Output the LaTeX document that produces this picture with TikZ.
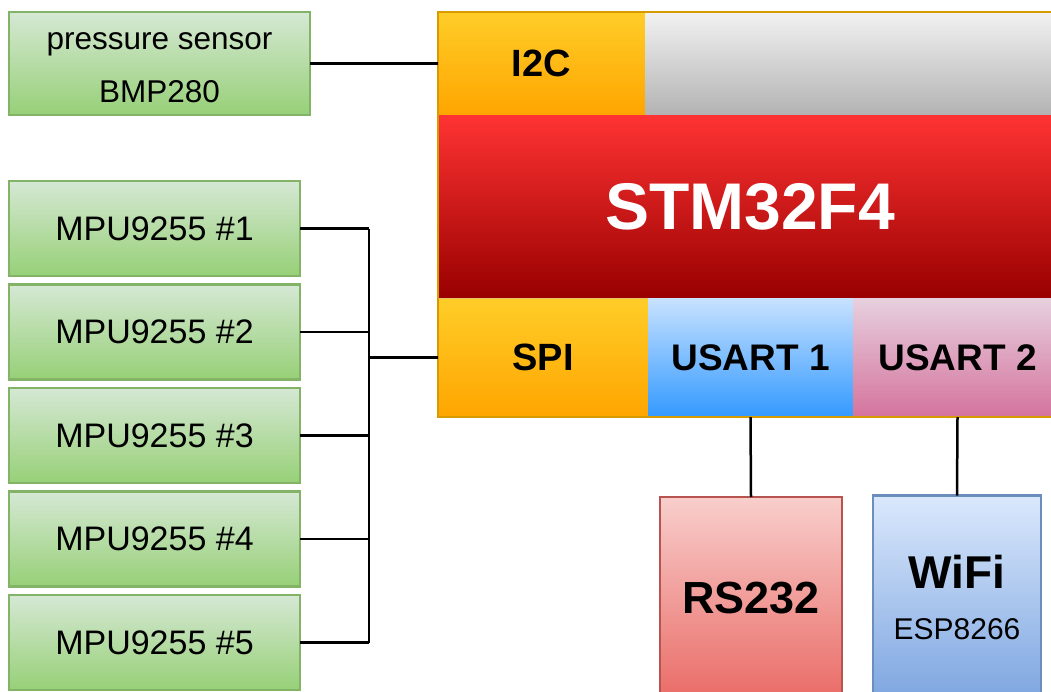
\documentclass[tikz,border=0pt]{standalone}
\usepackage{fontspec}
\setmainfont{Liberation Sans}
\usetikzlibrary{positioning}
\definecolor{greenTop}{HTML}{D5E8D4}
\definecolor{greenBot}{HTML}{97D077}
\definecolor{greenEdge}{HTML}{82B366}
\definecolor{amberTop}{HTML}{FFCD28}
\definecolor{amberBot}{HTML}{FFA500}
\definecolor{amberEdge}{HTML}{D79B00}
\definecolor{greyTop}{HTML}{F2F2F2}
\definecolor{greyBot}{HTML}{B3B3B3}
\definecolor{coreTop}{HTML}{FF3333}
\definecolor{coreBot}{HTML}{990000}
\definecolor{usaTop}{HTML}{C8E2FF}
\definecolor{usaBot}{HTML}{3399FF}
\definecolor{usbTop}{HTML}{E6D0DE}
\definecolor{usbBot}{HTML}{D5739D}
\definecolor{rsTop}{HTML}{F8CECC}
\definecolor{rsBot}{HTML}{EA6B66}
\definecolor{rsEdge}{HTML}{B85450}
\definecolor{wfTop}{HTML}{DAE8FC}
\definecolor{wfBot}{HTML}{7EA6E0}
\definecolor{wfEdge}{HTML}{6C8EBF}

\begin{document}
\begin{tikzpicture}[x=1pt,y=-1pt,node distance=0pt,
    blk/.style={rectangle,inner sep=0pt,outer sep=0pt,align=center},
    sensor/.style={blk,draw=greenEdge,line width=2.5pt,top color=greenTop,
                   bottom color=greenBot,minimum width=291pt,minimum height=95pt,
                   font=\fontsize{34}{40}\selectfont},
    port/.style={blk,minimum height=119pt,font=\bfseries\fontsize{38}{44}\selectfont},
    ext/.style={blk,line width=2.5pt,minimum height=203pt},
    wire/.style={line width=2.5pt,black}]

    \useasboundingbox (0,0) rectangle (1051,691);
    \clip (0,0) rectangle (1051,691);

    \node[sensor,minimum width=301pt,minimum height=103pt,
          font=\fontsize{31.5}{53}\selectfont] (pres) at (159.5,63.5)
      {\rule{0pt}{25pt}pressure sensor\\BMP280};
    \node[sensor] (mpu1) at (154.5,228.5) {MPU9255 \#1};
    \foreach \i [evaluate=\i as \p using int(\i-1)] in {2,...,5}
      \node[sensor,below=8.5pt of mpu\p] (mpu\i) {MPU9255 \#\i};

    \node[port,minimum width=207pt,minimum height=103pt,draw=amberEdge!60,line width=1pt,
          top color=amberTop,bottom color=amberBot] (i2c) at (541.5,63.5) {I2C};
    \node[port,minimum width=417pt,minimum height=103pt,
          top color=greyTop,bottom color=greyBot,right=of i2c] (blank) {};
    \node[blk,anchor=north west,minimum width=624pt,minimum height=183pt,
          top color=coreTop,bottom color=coreBot,text=white,
          font=\bfseries\fontsize{66}{72}\selectfont] (core) at (i2c.south west) {STM32F4};
    \node[port,anchor=north west,minimum width=210pt,draw=amberEdge!60,line width=1pt,
          top color=amberTop,bottom color=amberBot] (spi) at (core.south west) {SPI};
    \node[port,minimum width=205pt,top color=usaTop,bottom color=usaBot,
          font=\bfseries\fontsize{37}{44}\selectfont,right=of spi] (usart1) {USART 1};
    \node[port,minimum width=209pt,top color=usbTop,bottom color=usbBot,
          font=\bfseries\fontsize{37}{44}\selectfont,right=of usart1] (usart2) {USART 2};
    \draw[amberEdge,line width=1.5pt] (i2c.north west) rectangle (usart2.south east);

    \node[ext,draw=rsEdge,top color=rsTop,bottom color=rsBot,minimum width=182pt,
          font=\bfseries\fontsize{45}{50}\selectfont] (rs) at (751,598.5) {RS232};
    \node[ext,draw=wfEdge,top color=wfTop,bottom color=wfBot,minimum width=168pt,
          font=\fontsize{30}{51}\selectfont] (wifi) at (957,597)
      {{\bfseries\fontsize{46}{51}\selectfont WiFi}\\ESP8266};

    \coordinate (bus) at (369,0);
    \draw[wire] (pres.east) -- (i2c.west);
    \foreach \i in {1,...,5}
      \draw[wire] (mpu\i.east) -- (mpu\i.east -| bus);
    \draw[wire] (mpu1.east -| bus) -- (mpu5.east -| bus);
    \draw[wire] (spi.west -| bus) -- (spi.west);
    \draw[wire] (usart1.south) -- (rs.north);
    \draw[wire] (usart2.south) -- (wifi.north);
  \end{tikzpicture}
\end{document}
